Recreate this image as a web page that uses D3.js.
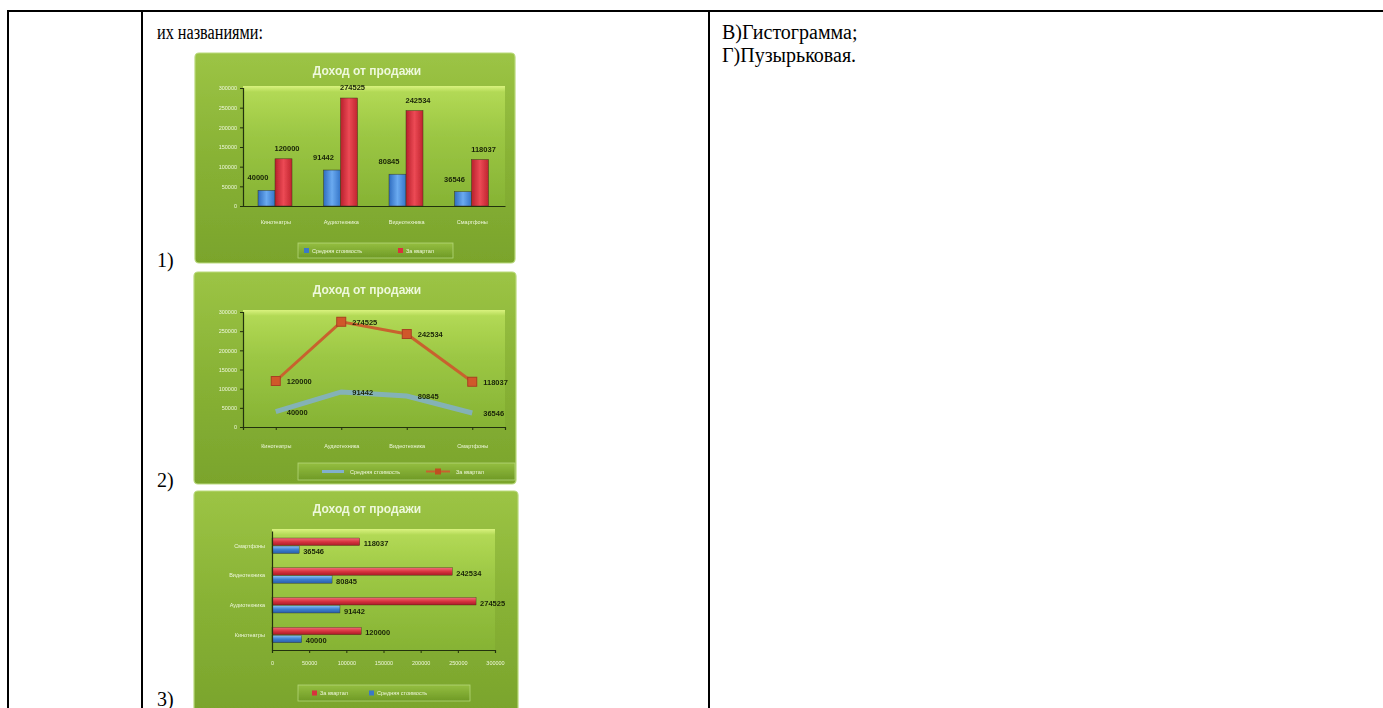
<!DOCTYPE html>
<html>
<head>
<meta charset="utf-8">
<script src="https://cdn.jsdelivr.net/npm/d3@7"></script>
<style>
  body { margin: 0; background: #fff; }
  .doc { font-family: "Liberation Serif", "Times New Roman", serif; font-size: 20px; fill: #000; }
  .tiny { font-family: "Liberation Sans", Arial, sans-serif; font-size: 5.5px; fill: #eef7dc; }
  .lbl { font-family: "Liberation Sans", Arial, sans-serif; font-size: 7.5px; fill: #1a2408; font-weight: bold; }
  .ttl { font-family: "Liberation Sans", Arial, sans-serif; font-size: 12px; fill: #eef8dc; font-weight: bold; }
</style>
</head>
<body>
<div id="vis"></div>
<script>
// data
var categories = ['Кинотеатры', 'Аудиотехника', 'Видеотехника', 'Смартфоны'];
var avgCost = [40000, 91442, 80845, 36546];
var quarter = [120000, 274525, 242534, 118037];
var valueTicks = [0, 50000, 100000, 150000, 200000, 250000, 300000];
var seriesNames = ['Средняя стоимость', 'За квартал'];
var chartTitle = 'Доход от продажи';

var svg = d3.select('#vis')
    .append('svg')
    .attr('width', 1383)
    .attr('height', 708);

var defs = svg.append('defs');

function vgrad(id, stops) {
    var g = defs.append('linearGradient').attr('id', id)
        .attr('x1', 0).attr('y1', 0).attr('x2', 0).attr('y2', 1);
    stops.forEach(function (s) {
        g.append('stop').attr('offset', s[0]).attr('stop-color', s[1]);
    });
}
function hgrad(id, stops) {
    var g = defs.append('linearGradient').attr('id', id)
        .attr('x1', 0).attr('y1', 0).attr('x2', 1).attr('y2', 0);
    stops.forEach(function (s) {
        g.append('stop').attr('offset', s[0]).attr('stop-color', s[1]);
    });
}
vgrad('bg', [[0, '#9cc445'], [0.5, '#88b235'], [1, '#7aa42c']]);
vgrad('plot', [[0, '#d9f27e'], [0.05, '#b2d955'], [0.4, '#9cc744'], [1, '#86b334']]);
vgrad('leg', [[0, '#94be40'], [1, '#6f9a26']]);
hgrad('blueV', [[0, '#2f6cc0'], [0.5, '#6aaaf0'], [1, '#3474c8']]);
hgrad('redV', [[0, '#b8202c'], [0.5, '#ec4a55'], [1, '#c0242f']]);
vgrad('blueH', [[0, '#8cc4f6'], [0.5, '#3b7fd0'], [1, '#2a5ea8']]);
vgrad('redH', [[0, '#f07078'], [0.5, '#d83440'], [1, '#a81c26']]);
defs.append('filter').attr('id', 'soft')
    .append('feGaussianBlur').attr('stdDeviation', 0.35);

// ---- document table ----
var ink = '#000';
svg.append('line').attr('x1', 8).attr('x2', 1383).attr('y1', 11).attr('y2', 11)
    .attr('stroke', ink).attr('stroke-width', 2);
[8, 142, 709].forEach(function (x) {
    svg.append('line').attr('x1', x).attr('x2', x).attr('y1', 10).attr('y2', 708)
        .attr('stroke', ink).attr('stroke-width', 2);
});
svg.append('text').attr('class', 'doc').attr('x', 157).attr('y', 39)
    .attr('textLength', 106).attr('lengthAdjust', 'spacingAndGlyphs').text('их названиями:');
svg.append('text').attr('class', 'doc').attr('x', 722).attr('y', 39).text('В)Гистограмма;');
svg.append('text').attr('class', 'doc').attr('x', 722).attr('y', 62).text('Г)Пузырьковая.');
svg.append('text').attr('class', 'doc').attr('x', 157).attr('y', 267).text('1)');
svg.append('text').attr('class', 'doc').attr('x', 157).attr('y', 487).text('2)');
svg.append('text').attr('class', 'doc').attr('x', 157).attr('y', 706).text('3)');

// ---- chart frame helper ----
function frame(x, y, w, h) {
    var g = svg.append('g').attr('filter', 'url(#soft)');
    g.append('rect').attr('x', x).attr('y', y).attr('width', w).attr('height', h)
        .attr('rx', 4).attr('fill', 'url(#bg)').attr('stroke', '#b9d97c').attr('stroke-width', 1.2);
    g.append('text').attr('class', 'ttl').attr('x', 367).attr('y', y + 22)
        .attr('text-anchor', 'middle').text(chartTitle);
    return g;
}
function styleAxis(a) {
    a.select('.domain').attr('stroke', '#24300c').attr('stroke-width', 1.2);
    a.selectAll('.tick line').attr('stroke', '#24300c');
    a.selectAll('.tick text').attr('class', 'tiny').attr('fill', null);
}
function legendBox(g, x, y, w, h) {
    g.append('rect').attr('x', x).attr('y', y).attr('width', w).attr('height', h)
        .attr('fill', 'url(#leg)').attr('stroke', '#b4d67a').attr('stroke-width', 0.8);
}
var fmt = d3.format('d');

// ---- chart 1: column chart ----
var g1 = frame(195, 53, 320, 210);
var x1 = d3.scaleBand().domain(categories).range([243, 505]);
var s1 = d3.scaleBand().domain(['avg', 'q']).range([15, 49]);
var y1 = d3.scaleLinear().domain([0, 300000]).range([206, 88]);
g1.append('rect').attr('x', 243).attr('y', 86).attr('width', 262).attr('height', 120)
    .attr('fill', 'url(#plot)');
var rows1 = categories.map(function (c, i) { return { c: c, avg: avgCost[i], q: quarter[i] }; });
['avg', 'q'].forEach(function (k) {
    g1.selectAll('.b' + k).data(rows1).enter().append('rect')
        .attr('x', function (d) { return x1(d.c) + s1(k); })
        .attr('width', s1.bandwidth())
        .attr('y', function (d) { return y1(d[k]); })
        .attr('height', function (d) { return y1(0) - y1(d[k]); })
        .attr('fill', k === 'avg' ? 'url(#blueV)' : 'url(#redV)')
        .attr('stroke', '#3a3a18').attr('stroke-width', 0.5);
    g1.selectAll('.l' + k).data(rows1).enter().append('text').attr('class', 'lbl')
        .attr('text-anchor', 'middle')
        .attr('x', function (d) { return x1(d.c) + s1(k) + (k === 'avg' ? 0 : 12); })
        .attr('y', function (d) { return y1(d[k]) - (k === 'avg' ? 10 : 8); })
        .text(function (d) { return fmt(d[k]); });
});
styleAxis(g1.append('g').attr('transform', 'translate(243,0)')
    .call(d3.axisLeft(y1).tickValues(valueTicks).tickFormat(fmt).tickSize(3).tickPadding(3)));
styleAxis(g1.append('g').attr('transform', 'translate(0,206)')
    .call(d3.axisBottom(x1).tickSize(0).tickPadding(14)));
legendBox(g1, 298, 243, 155, 15);
g1.append('rect').attr('x', 304).attr('y', 248).attr('width', 5).attr('height', 5).attr('fill', '#3a78c8');
g1.append('text').attr('class', 'tiny').attr('x', 312).attr('y', 252.5).text(seriesNames[0]);
g1.append('rect').attr('x', 398).attr('y', 248).attr('width', 5).attr('height', 5).attr('fill', '#d8303c');
g1.append('text').attr('class', 'tiny').attr('x', 406).attr('y', 252.5).text(seriesNames[1]);

// ---- chart 2: line chart ----
var g2 = frame(194, 272, 322, 212);
var x2 = d3.scalePoint().domain(categories).range([243, 505]).padding(0.5);
var y2 = d3.scaleLinear().domain([0, 300000]).range([427, 312]);
g2.append('rect').attr('x', 243).attr('y', 310).attr('width', 262).attr('height', 117)
    .attr('fill', 'url(#plot)');
var line2 = d3.line().x(function (d, i) { return x2(categories[i]); }).y(function (d) { return y2(d); });
g2.append('path').datum(avgCost).attr('d', line2).attr('fill', 'none')
    .attr('stroke', '#82b0cc').attr('stroke-width', 5).attr('opacity', 0.85);
g2.append('path').datum(quarter).attr('d', line2).attr('fill', 'none')
    .attr('stroke', '#c8622e').attr('stroke-width', 3);
g2.selectAll('.m').data(quarter).enter().append('rect')
    .attr('x', function (d, i) { return x2(categories[i]) - 4.5; })
    .attr('y', function (d) { return y2(d) - 4.5; })
    .attr('width', 9).attr('height', 9).attr('fill', '#d0582c').attr('stroke', '#a84020');
[avgCost, quarter].forEach(function (arr) {
    g2.selectAll(null).data(arr).enter().append('text').attr('class', 'lbl')
        .attr('x', function (d, i) { return x2(categories[i]) + 11; })
        .attr('y', function (d) { return y2(d) + 3; })
        .text(function (d) { return fmt(d); });
});
styleAxis(g2.append('g').attr('transform', 'translate(243,0)')
    .call(d3.axisLeft(y2).tickValues(valueTicks).tickFormat(fmt).tickSize(3).tickPadding(3)));
styleAxis(g2.append('g').attr('transform', 'translate(0,427)')
    .call(d3.axisBottom(x2).tickSize(3).tickPadding(14)));
legendBox(g2, 298, 463, 217, 17);
g2.append('line').attr('x1', 322).attr('x2', 344).attr('y1', 471.5).attr('y2', 471.5)
    .attr('stroke', '#82b0cc').attr('stroke-width', 3);
g2.append('text').attr('class', 'tiny').attr('x', 350).attr('y', 473.5).text(seriesNames[0]);
g2.append('line').attr('x1', 426).attr('x2', 450).attr('y1', 471.5).attr('y2', 471.5)
    .attr('stroke', '#c8622e').attr('stroke-width', 2);
g2.append('rect').attr('x', 435).attr('y', 468.5).attr('width', 6).attr('height', 6).attr('fill', '#c05020');
g2.append('text').attr('class', 'tiny').attr('x', 456).attr('y', 473.5).text(seriesNames[1]);

// ---- chart 3: horizontal bar chart ----
var g3 = frame(194, 491, 324, 222);
var y3 = d3.scaleBand().domain(categories.slice().reverse()).range([531, 650]);
var s3 = d3.scaleBand().domain(['q', 'avg']).range([7, 23]);
var x3 = d3.scaleLinear().domain([0, 300000]).range([272, 495]);
g3.append('rect').attr('x', 272).attr('y', 529).attr('width', 223).attr('height', 121)
    .attr('fill', 'url(#plot)');
['q', 'avg'].forEach(function (k) {
    g3.selectAll(null).data(rows1).enter().append('rect')
        .attr('x', 272)
        .attr('y', function (d) { return y3(d.c) + s3(k); })
        .attr('height', s3.bandwidth() - 0.5)
        .attr('width', function (d) { return x3(d[k]) - 272; })
        .attr('fill', k === 'avg' ? 'url(#blueH)' : 'url(#redH)')
        .attr('stroke', '#3a3a18').attr('stroke-width', 0.4);
    g3.selectAll(null).data(rows1).enter().append('text').attr('class', 'lbl')
        .attr('x', function (d) { return x3(d[k]) + 4; })
        .attr('y', function (d) { return y3(d.c) + s3(k) + s3.bandwidth() / 2 + 4; })
        .text(function (d) { return fmt(d[k]); });
});
styleAxis(g3.append('g').attr('transform', 'translate(272,0)')
    .call(d3.axisLeft(y3).tickSize(0).tickPadding(7)));
styleAxis(g3.append('g').attr('transform', 'translate(0,650)')
    .call(d3.axisBottom(x3).tickValues(valueTicks).tickFormat(fmt).tickSize(3).tickPadding(8)));
legendBox(g3, 298, 685, 172, 16);
g3.append('rect').attr('x', 312).attr('y', 690.5).attr('width', 5).attr('height', 5).attr('fill', '#d8303c');
g3.append('text').attr('class', 'tiny').attr('x', 320).attr('y', 695).text(seriesNames[1]);
g3.append('rect').attr('x', 369).attr('y', 690.5).attr('width', 5).attr('height', 5).attr('fill', '#3a78c8');
g3.append('text').attr('class', 'tiny').attr('x', 377).attr('y', 695).text(seriesNames[0]);
</script>
</body>
</html>
